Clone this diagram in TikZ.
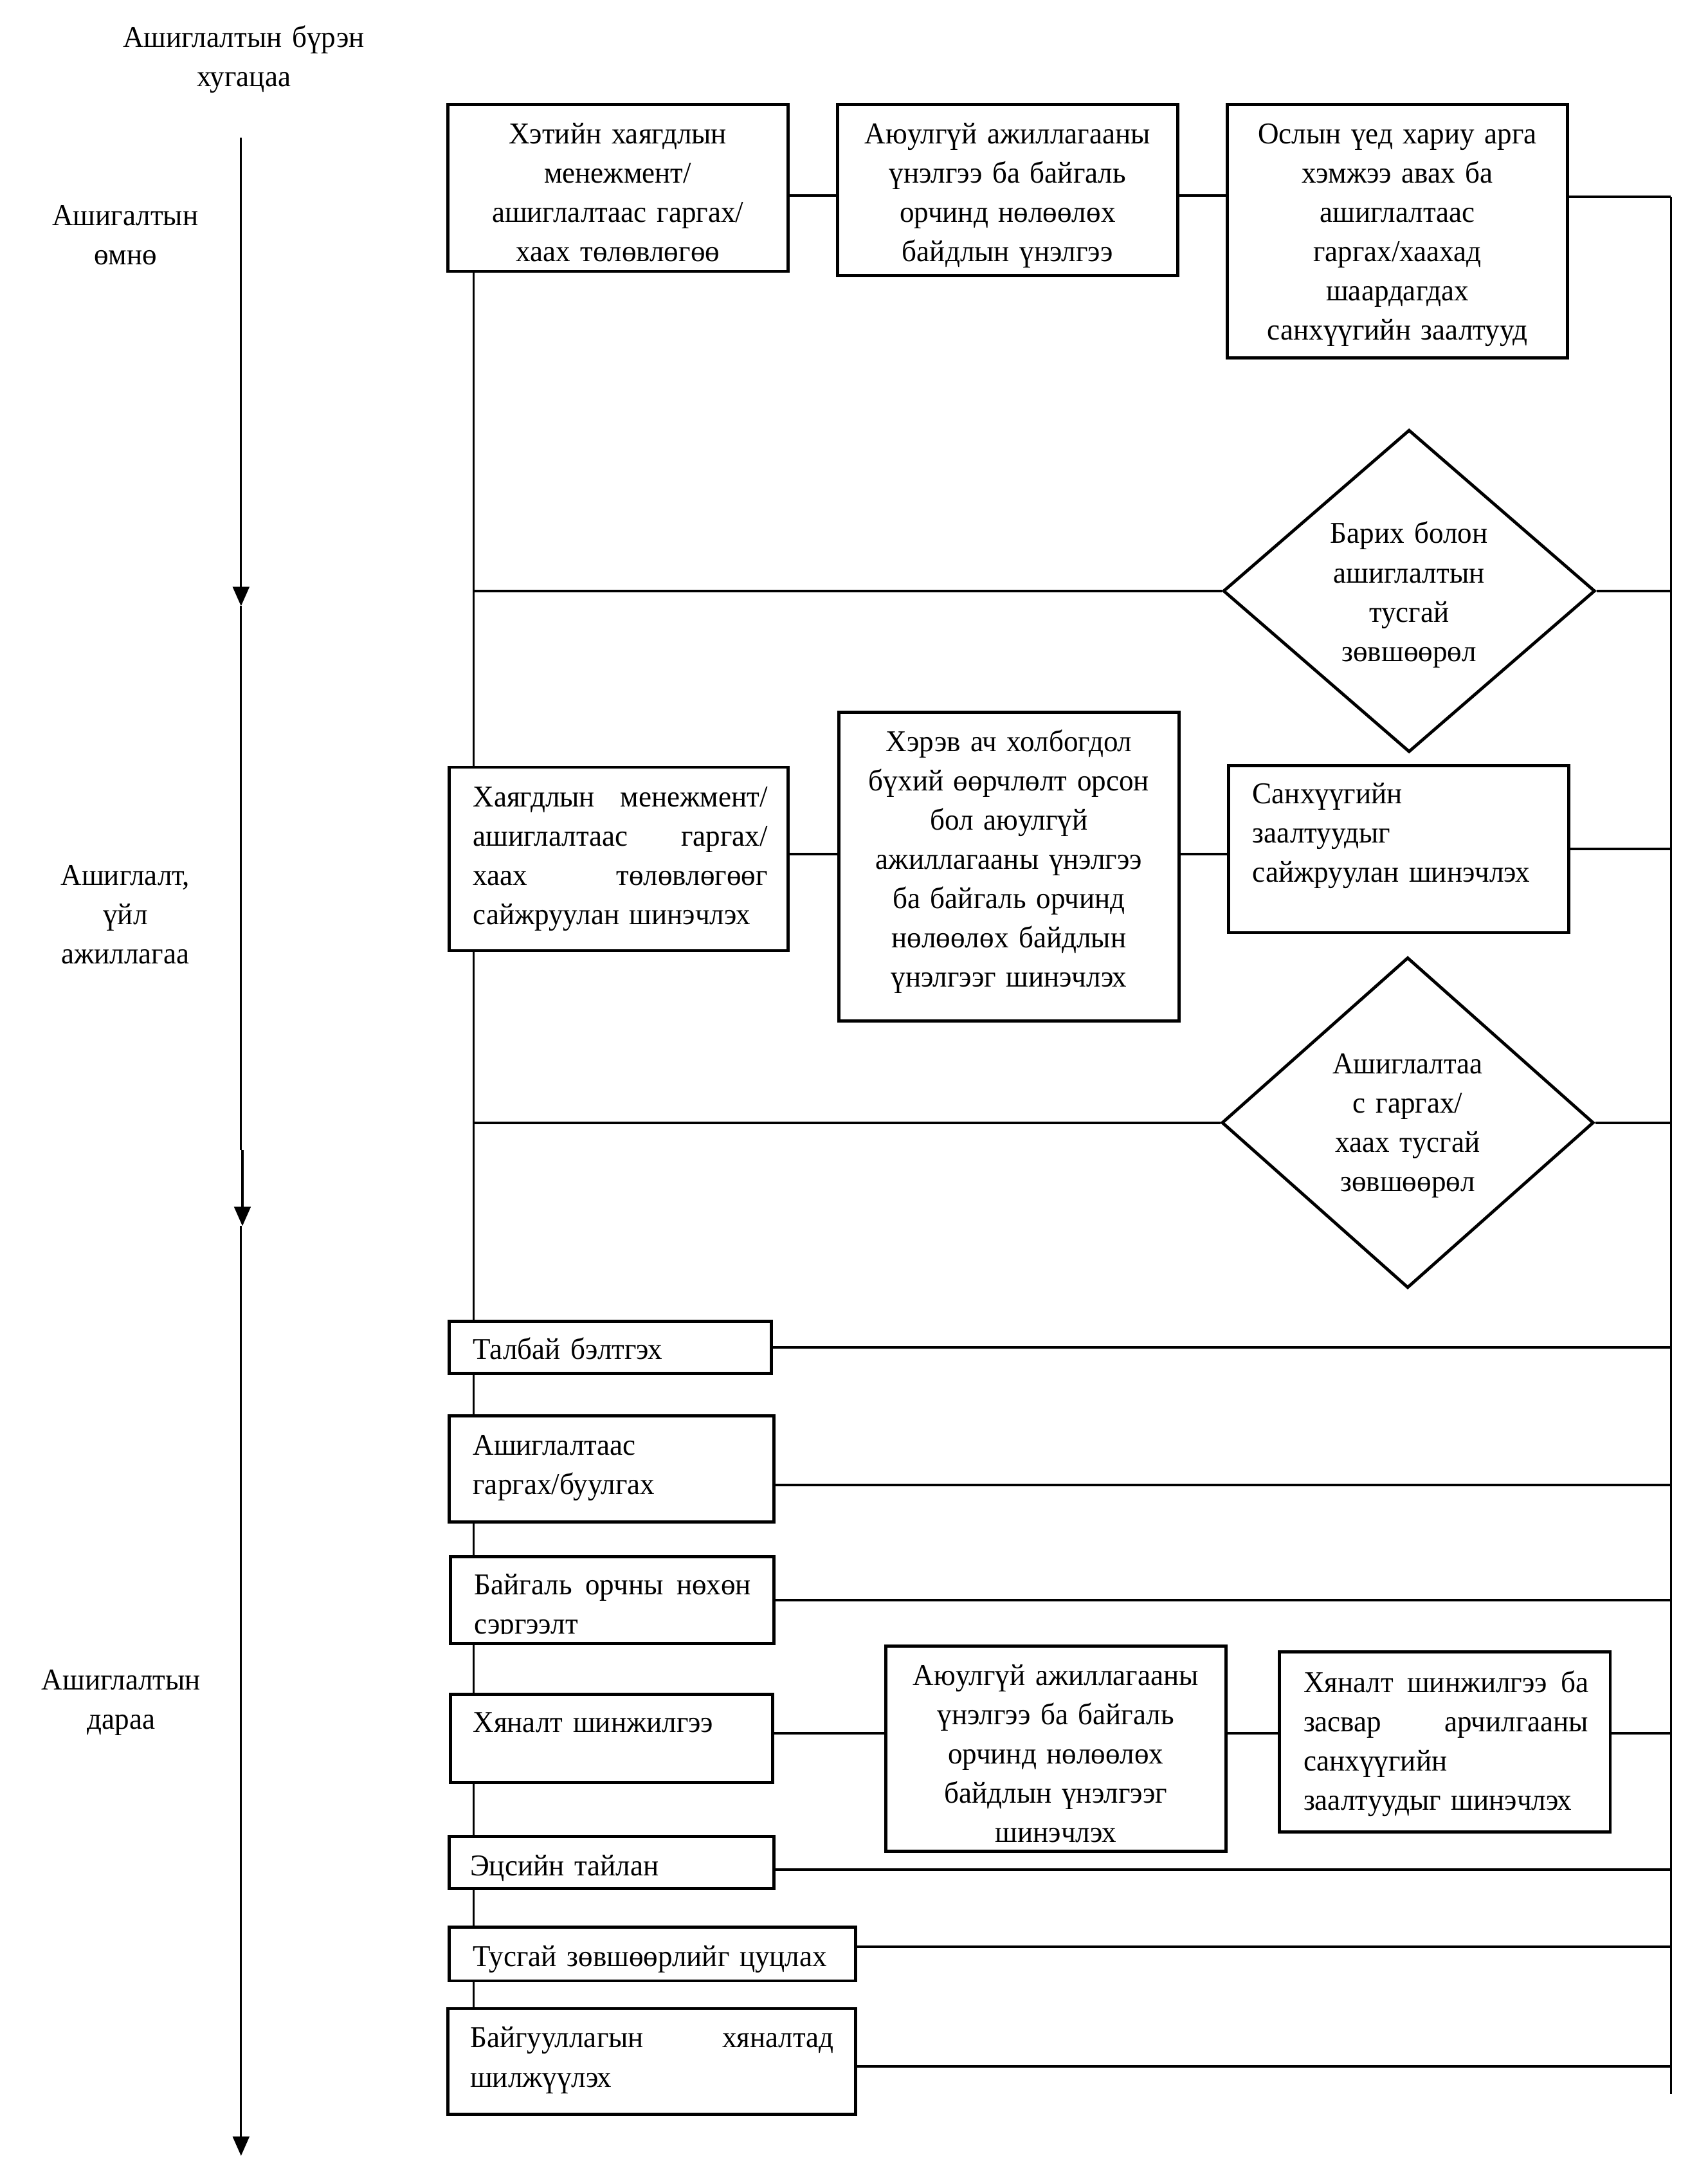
\documentclass[tikz,border=0pt]{standalone}
\usepackage{fontspec}
\setmainfont{Liberation Serif}[FakeStretch=0.96]
\usetikzlibrary{shapes.geometric,fit,arrows.meta,calc}
\begin{document}
\begin{tikzpicture}[x=0.5355pt,y=-0.5355pt,
  every node/.style={font=\fontsize{11.75pt}{15.26pt}\selectfont},
  box/.style={draw, line width=1.2pt, inner sep=0pt},
  dia/.style={draw, diamond, line width=1.2pt, inner sep=0pt},
  ctext/.style={inner sep=0pt, align=center, anchor=base},
  ltext/.style={inner sep=0pt, align=left, anchor=base west},
  conn/.style={line width=1pt},
  spine/.style={line width=0.7pt},
  rail/.style={line width=0.8pt},
  tline/.style={line width=0.8pt, -{Triangle[length=7.5pt,width=6.4pt]}}]
\useasboundingbox (0,0) rectangle (1240,1567.3);

% helper coordinates
\coordinate (sx) at (344,0);
\coordinate (rt) at (1213,143);
\coordinate (rb) at (1213,1520);
\coordinate (h1) at (0,142);
\coordinate (h2) at (0,620);
\coordinate (h3) at (0,1258);
\coordinate (h4) at (0,1078);
\coordinate (h5) at (0,1357);
\coordinate (h6) at (0,1413);
\coordinate (h7) at (0,1500);
\coordinate (t0) at (175,100);
\coordinate (t1) at (175,440);
\coordinate (t2) at (175,835);
\coordinate (t2b) at (176,835);
\coordinate (t3) at (176,890);
\coordinate (t4) at (175,890);
\coordinate (t5) at (175,1565);

% left labels
\node[ctext, text width=134pt] (title) at (177,34.5) {Ашиглалтын бүрэн\\хугацаа};
\node[ctext, text width=80pt] (lab1) at (91,163.5) {Ашигалтын\\өмнө};
\node[ctext, text width=80pt] (lab2) at (91,642.5) {Ашиглалт,\\үйл\\ажиллагаа};
\node[ctext, text width=80pt] (lab3) at (88,1226.5) {Ашиглалтын\\дараа};

% timeline
\draw[tline] (t0) -- (t1);
\draw[line width=0.8pt] (t1) -- (t2);
\draw[tline] (t2b) -- (t3);
\draw[tline] (t4) -- (t5);

% top row
\node[box, fit={(325,76) (572,197)}] (b1) {};
\node[ctext, text width=128.5pt] (b1t) at (448.5,104.5) {Хэтийн хаягдлын\\менежмент/\\ашиглалтаас гаргах/\\хаах төлөвлөгөө};
\node[box, fit={(608,76) (855,200)}] (b2) {};
\node[ctext, text width=128.5pt] (b2t) at (731.5,104.5) {Аюулгүй ажиллагааны\\үнэлгээ ба байгаль\\орчинд нөлөөлөх\\байдлын үнэлгээ};
\node[box, fit={(891,76) (1138,260)}] (b3) {};
\node[ctext, text width=128.5pt] (b3t) at (1014.5,104.5) {Ослын үед хариу арга\\хэмжээ авах ба\\ашиглалтаас\\гаргах/хаахад\\шаардагдах\\санхүүгийн заалтууд};

% diamond 1
\node[dia, minimum width=270*0.5355pt, minimum height=234*0.5355pt] (d1) at (1023,429) {};
\node[ctext, text width=107pt] (d1t) at (1023,394.5) {Барих болон\\ашиглалтын\\тусгай\\зөвшөөрөл};

% middle row
\node[box, fit={(326,557) (572,690)}] (b4) {};
\node[ltext, text width=114.6pt] (b4t) at (343,585.5) {Хаягдлын\hfill менежмент/\\ашиглалтаас\hfill гаргах/\\хаах\hfill төлөвлөгөөг\\сайжруулан шинэчлэх};
\node[box, fit={(609,517) (856,741)}] (b5) {};
\node[ctext, text width=128.5pt] (b5t) at (732.5,545.5) {Хэрэв ач холбогдол\\бүхий өөрчлөлт орсон\\бол аюулгүй\\ажиллагааны үнэлгээ\\ба байгаль орчинд\\нөлөөлөх байдлын\\үнэлгээг шинэчлэх};
\node[box, fit={(892,556) (1139,677)}] (b6) {};
\node[ltext, text width=120.5pt] (b6t) at (909,583.5) {Санхүүгийн\\заалтуудыг\\сайжруулан шинэчлэх};

% diamond 2
\node[dia, minimum width=270*0.5355pt, minimum height=240*0.5355pt] (d2) at (1022,815) {};
\node[ctext, text width=107pt] (d2t) at (1022,779.5) {Ашиглалтаа\\с гаргах/\\хаах тусгай\\зөвшөөрөл};

% lower boxes
\node[box, fit={(326,959) (560,997)}] (l1) {};
\node[ltext, text width=112.5pt] (l1t) at (343,986.5) {Талбай бэлтгэх};
\node[box, fit={(326,1028) (562,1105)}] (l2) {};
\node[ltext, text width=115pt] (l2t) at (343,1056.5) {Ашиглалтаас\\гаргах/буулгах};
\node[box, fit={(327,1130) (562,1193)}] (l3) {};
\begin{scope}
\clip (327,1130) rectangle (562,1186);
\node[ltext, text width=107.6pt] (l3t) at (344,1157.5) {Байгаль\hfill орчны\hfill нөхөн\\сэргээлт};
\end{scope}
\node[box, fit={(327,1230) (561,1294)}] (l4) {};
\node[ltext, text width=112.5pt] (l4t) at (343,1257.5) {Хяналт шинжилгээ};
\node[box, fit={(643,1195) (890,1344)}] (b7) {};
\node[ctext, text width=128.5pt] (b7t) at (766.5,1223.5) {Аюулгүй ажиллагааны\\үнэлгээ ба байгаль\\орчинд нөлөөлөх\\байдлын үнэлгээг\\шинэчлэх};
\node[box, fit={(929,1199) (1169,1330)}] (b8) {};
\node[ltext, text width=110.8pt] (b8t) at (946,1228.5) {Хяналт\hfill шинжилгээ\hfill ба\\засвар\hfill арчилгааны\\санхүүгийн\\заалтуудыг шинэчлэх};
\node[box, fit={(326,1333) (562,1371)}] (l5) {};
\node[ltext, text width=115pt] (l5t) at (341,1361.5) {Эцсийн тайлан};
\node[box, fit={(326,1399) (621,1438)}] (l6) {};
\node[ltext, text width=147pt] (l6t) at (343,1427.5) {Тусгай зөвшөөрлийг цуцлах};
\node[box, fit={(325,1458) (621,1535)}] (l7) {};
\node[ltext, text width=141.4pt] (l7t) at (341,1486.5) {Байгууллагын\hfill хяналтад\\шилжүүлэх};

% right rail
\draw[rail] (rt) -- (rb);

% top-row connectors
\draw[conn] (b1.east |- h1) -- (b2.west |- h1);
\draw[conn] (b2.east |- h1) -- (b3.west |- h1);
\draw[conn] (b3.east |- rt) -- (rt);

% spine
\draw[spine] (b1.south -| sx) -- (b4.north -| sx);
\draw[spine] (b4.south -| sx) -- (l1.north -| sx);
\draw[spine] (l1.south -| sx) -- (l2.north -| sx);
\draw[spine] (l2.south -| sx) -- (l3.north -| sx);
\draw[spine] (l3.south -| sx) -- (l4.north -| sx);
\draw[spine] (l4.south -| sx) -- (l5.north -| sx);
\draw[spine] (l5.south -| sx) -- (l6.north -| sx);
\draw[spine] (l6.south -| sx) -- (l7.north -| sx);

% diamonds
\draw[conn] (d1.west -| sx) -- (d1.west);
\draw[conn] (d1.east) -- (d1.east -| rt);
\draw[conn] (d2.west -| sx) -- (d2.west);
\draw[conn] (d2.east) -- (d2.east -| rt);

% middle row
\draw[conn] (b4.east |- h2) -- (b5.west |- h2);
\draw[conn] (b5.east |- h2) -- (b6.west |- h2);
\draw[conn] (b6.east) -- (b6.east -| rt);

% lower rows
\draw[conn] (l1.east) -- (l1.east -| rt);
\draw[conn] (l2.east |- h4) -- (rt |- h4);
\draw[conn] (l3.east) -- (l3.east -| rt);
\draw[conn] (l4.east |- h3) -- (b7.west |- h3);
\draw[conn] (b7.east |- h3) -- (b8.west |- h3);
\draw[conn] (b8.east |- h3) -- (rt |- h3);
\draw[conn] (l5.east |- h5) -- (rt |- h5);
\draw[conn] (l6.east |- h6) -- (rt |- h6);
\draw[conn] (l7.east |- h7) -- (rt |- h7);
\end{tikzpicture}
\end{document}
